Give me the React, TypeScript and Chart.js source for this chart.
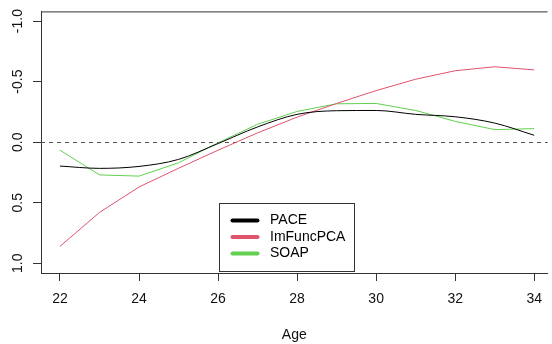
import React, { useEffect, useRef } from "react";
import { Chart, registerables } from "chart.js";

Chart.register(...registerables);

// ---- data ----
const ages = [22, 23, 24, 25, 26, 27, 28, 29, 30, 31, 32, 33, 34];
const pace = [0.197, 0.216, 0.2, 0.142, 0.011, -0.126, -0.23, -0.26, -0.262, -0.23, -0.21, -0.158, -0.057];
const imFuncPCA = [0.86, 0.58, 0.37, 0.215, 0.066, -0.077, -0.207, -0.32, -0.426, -0.52, -0.59, -0.623, -0.597];
const soap = [0.066, 0.27, 0.28, 0.17, 0.005, -0.148, -0.254, -0.317, -0.32, -0.262, -0.172, -0.104, -0.112];
const seriesNames = ["PACE", "ImFuncPCA", "SOAP"];
const seriesColors = ["#000000", "#DF536B", "#61D04F"];
const xTicks = [22, 24, 26, 28, 30, 32, 34];
const yTicks = [-1, -0.5, 0, 0.5, 1];
const xTitle = "Age";

const FONT = "'Liberation Sans', Arial, Helvetica, sans-serif";
const FONT_SIZE = 14;
const AXIS_COLOR = "#333333";

const decorPlugin = {
  id: "decor",
  beforeDatasetsDraw(chart: any) {
    const { ctx, chartArea, scales } = chart;
    const y0 = Math.round(scales.y.getPixelForValue(0)) + 0.5;
    ctx.save();
    ctx.strokeStyle = "#555555";
    ctx.lineWidth = 1;
    ctx.setLineDash([4, 4]);
    ctx.beginPath();
    ctx.moveTo(chartArea.left, y0);
    ctx.lineTo(chartArea.right, y0);
    ctx.stroke();
    ctx.restore();
  },
  afterDraw(chart: any) {
    const { ctx, chartArea } = chart;
    ctx.save();
    // top edge of the box
    ctx.strokeStyle = AXIS_COLOR;
    ctx.lineWidth = 1;
    ctx.beginPath();
    ctx.moveTo(chartArea.left, chartArea.top + 0.5);
    ctx.lineTo(chartArea.right, chartArea.top + 0.5);
    ctx.stroke();

    // legend
    const lx = 219.5, ly = 203.5, lw = 135, lh = 68;
    ctx.fillStyle = "#ffffff";
    ctx.fillRect(lx, ly, lw, lh);
    ctx.strokeStyle = AXIS_COLOR;
    ctx.strokeRect(lx, ly, lw, lh);
    ctx.font = `${FONT_SIZE}px ${FONT}`;
    ctx.textBaseline = "middle";
    ctx.textAlign = "left";
    seriesNames.forEach((name, i) => {
      const yy = 220.5 + i * 16.5;
      ctx.strokeStyle = seriesColors[i];
      ctx.lineWidth = 4;
      ctx.lineCap = "round";
      ctx.beginPath();
      ctx.moveTo(232.5, yy);
      ctx.lineTo(257.5, yy);
      ctx.stroke();
      ctx.fillStyle = "#000000";
      ctx.fillText(name, 270, yy);
    });
    ctx.restore();
  },
};

export default function App() {
  const canvasRef = useRef<HTMLCanvasElement | null>(null);

  useEffect(() => {
    if (!canvasRef.current) return;
    const mk = (arr: number[]) => ages.map((a, i) => ({ x: a, y: arr[i] }));
    const values = [pace, imFuncPCA, soap];
    const chart = new Chart(canvasRef.current, {
      type: "line",
      data: {
        datasets: values.map((v, i) => ({
          label: seriesNames[i],
          data: mk(v),
          borderColor: seriesColors[i],
          backgroundColor: seriesColors[i],
          borderWidth: 1,
          pointRadius: 0,
          fill: false,
          cubicInterpolationMode: i === 0 ? "monotone" : "default",
          tension: 0,
        })),
      },
      options: {
        responsive: false,
        animation: false,
        devicePixelRatio: 1,
        layout: { padding: { left: 0, top: 10, right: 0, bottom: 0 } },
        plugins: { legend: { display: false }, tooltip: { enabled: false } },
        scales: {
          x: {
            type: "linear",
            min: 21.52,
            max: 34.34,
            afterBuildTicks: (s: any) => { s.ticks = xTicks.map((v) => ({ value: v })); },
            afterFit: (s: any) => { s.height = 71; },
            grid: { drawOnChartArea: false, drawTicks: true, tickLength: 8, color: AXIS_COLOR },
            border: { display: true, color: AXIS_COLOR, width: 1 },
            ticks: {
              color: "#111111",
              font: { family: FONT, size: FONT_SIZE },
              padding: 10,
              maxRotation: 0,
              minRotation: 0,
              autoSkip: false,
              callback: (v: any) => String(v),
            },
            title: {
              display: true,
              text: xTitle,
              color: "#111111",
              font: { family: FONT, size: FONT_SIZE },
              padding: { top: 0, bottom: 0 },
            },
          },
          y: {
            type: "linear",
            reverse: true,
            min: -1.08,
            max: 1.08,
            afterBuildTicks: (s: any) => { s.ticks = yTicks.map((v) => ({ value: v })); },
            afterFit: (s: any) => { s.width = 41; },
            grid: { drawOnChartArea: false, drawTicks: true, tickLength: 8, color: AXIS_COLOR },
            border: { display: true, color: AXIS_COLOR, width: 1 },
            ticks: {
              color: "#111111",
              font: { family: FONT, size: FONT_SIZE },
              padding: 3,
              minRotation: 90,
              maxRotation: 90,
              crossAlign: "center",
              autoSkip: false,
              callback: (v: any) => Number(v).toFixed(1),
            },
          },
        },
      },
      plugins: [decorPlugin],
    } as any);
    return () => chart.destroy();
  }, []);

  return (
    <div style={{ position: "absolute", left: 0, top: 0, width: 552, height: 344, background: "#ffffff" }}>
      <canvas ref={canvasRef} width={552} height={344} style={{ width: 552, height: 344, display: "block" }} />
    </div>
  );
}
